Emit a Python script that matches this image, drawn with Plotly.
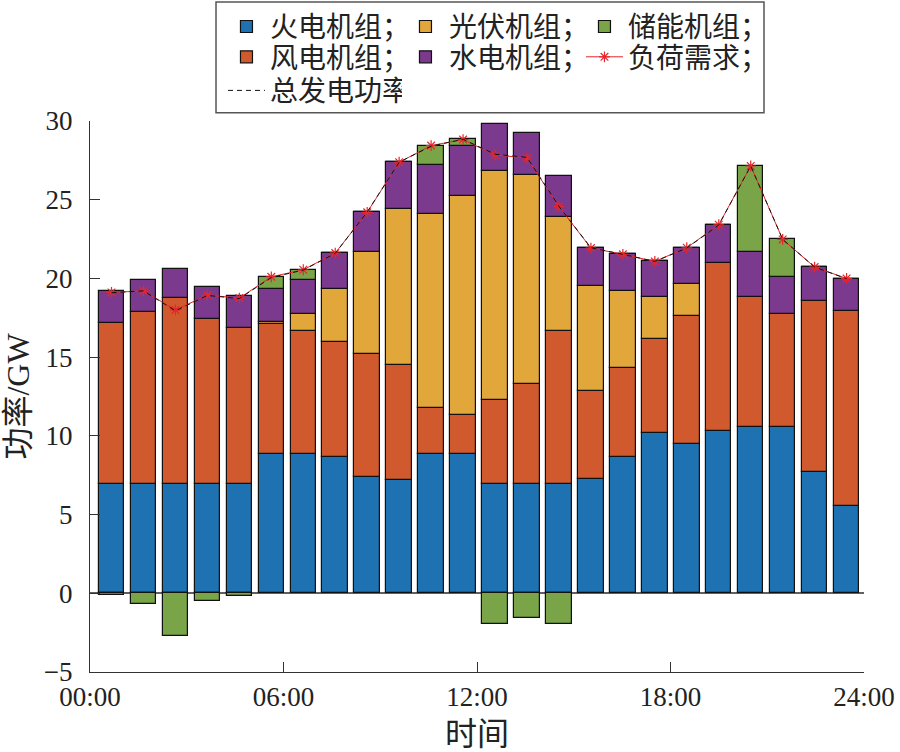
import numpy as np
import plotly.graph_objects as go

# hourly output of each unit type, GW
thermal = [6.93, 6.93, 6.93, 6.93, 6.93, 8.82, 8.82, 8.68, 7.38, 7.17, 8.82, 8.82,
           6.93, 6.93, 6.93, 7.23, 8.68, 10.16, 9.50, 10.29, 10.58, 10.58, 7.70, 5.53]
wind = [10.23, 10.91, 11.80, 10.48, 9.95, 8.27, 7.87, 7.29, 7.80, 7.30, 2.97, 2.48,
        5.35, 6.35, 9.72, 5.62, 5.66, 5.98, 8.10, 10.66, 8.21, 7.15, 10.86, 12.37]
solar = [0, 0, 0, 0, 0, 0.15, 1.08, 3.33, 6.47, 9.96, 12.32, 13.96,
         14.55, 13.29, 7.23, 6.70, 4.85, 2.71, 2.04, 0, 0, 0, 0, 0]
hydro = [2.03, 2.05, 1.90, 2.02, 2.01, 2.12, 2.12, 2.29, 2.57, 2.95, 3.08, 3.16,
         3.01, 2.69, 2.65, 2.40, 2.34, 2.23, 2.29, 2.44, 2.86, 2.37, 2.16, 2.08]
storage = [-0.10, -0.68, -2.69, -0.51, -0.17, 0.70, 0.64, 0, 0, 0, 1.21, 0.42,
           -1.95, -1.57, -1.95, 0, 0, 0, 0, 0, 5.49, 2.38, 0, 0]
load = [19.11, 19.21, 18.00, 18.94, 18.75, 20.10, 20.55, 21.61, 24.20, 27.38, 28.44, 28.82,
        27.84, 27.65, 24.56, 21.93, 21.53, 21.08, 21.95, 23.41, 27.14, 22.48, 20.72, 20.00]

tick_hours = [0, 6, 12, 18, 24]
tick_labels = ["00:00", "06:00", "12:00", "18:00", "24:00"]

# net total generation (storage counted with its sign)
total = np.array(thermal) + np.array(wind) + np.array(solar) + np.array(hydro) + np.array(storage)

# bar centres on the 0-24 h axis
x = 0.667 + 0.991 * np.arange(24)

font_family = "'Liberation Serif', 'Times New Roman', 'Noto Sans CJK SC', serif"
edge = dict(color="#111111", width=1.2)

fig = go.Figure()

bars = [
    ("火电机组；", thermal, "#1f72b2", "legend"),
    ("风电机组；", wind, "#d05a2d", "legend2"),
    ("光伏机组；", solar, "#e2a73b", "legend"),
    ("水电机组；", hydro, "#7b3a8d", "legend2"),
    ("储能机组；", storage, "#79a447", "legend"),
]
for name, vals, color, lg in bars:
    fig.add_trace(go.Bar(x=x, y=vals, name=name, width=0.79,
                         marker=dict(color=color, line=edge), legend=lg))

fig.add_trace(go.Scatter(x=x, y=load, name="负荷需求；", mode="lines+markers",
                         line=dict(color="#e8262b", width=1),
                         marker=dict(symbol="asterisk-open", size=9,
                                     line=dict(color="#e8262b", width=1.2)),
                         legend="legend2"))
fig.add_trace(go.Scatter(x=x, y=total, name="总发电功率", mode="lines",
                         line=dict(color="#111111", width=1, dash="5px,4px"),
                         legend="legend3"))

# one horizontal legend per row so the entries line up in three columns
leg = dict(orientation="h", x=0.1718, xanchor="left", yanchor="middle",
           bgcolor="rgba(0,0,0,0)", borderwidth=0, traceorder="normal",
           font=dict(family=font_family, size=28, color="#222222"),
           itemwidth=37, entrywidth=127, entrywidthmode="pixels")

fig.update_layout(
    width=900, height=752,
    margin=dict(l=90, r=36, t=121, b=80, autoexpand=False),
    paper_bgcolor="white", plot_bgcolor="white",
    barmode="relative", bargap=0,
    font=dict(family=font_family, size=27, color="#222222"),
    legend=dict(leg, y=1.171),
    legend2=dict(leg, y=1.116),
    legend3=dict(leg, y=1.055),
    shapes=[dict(type="rect", xref="paper", yref="paper",
                 x0=0.1628, x1=0.8708, y0=1.0149, y1=1.2161,
                 line=dict(color="#555555", width=1.5))],
)

fig.update_xaxes(range=[0, 24], tickvals=tick_hours, ticktext=tick_labels,
                 ticks="inside", ticklen=10, tickwidth=1.3, tickcolor="#333333",
                 showline=True, linecolor="#333333", linewidth=1.3,
                 showgrid=False, zeroline=False,
                 title=dict(text="时间", standoff=14))
fig.update_yaxes(range=[-5, 30], dtick=5,
                 ticks="inside", ticklen=10, tickwidth=1.3, tickcolor="#333333",
                 showline=True, linecolor="#333333", linewidth=1.3,
                 showgrid=False, zeroline=True, zerolinecolor="#606060", zerolinewidth=1.5,
                 ticklabelstandoff=11,
                 title=dict(text="功率/GW", standoff=8))

# drop the browser's default body margin so the figure fills the window exactly
fig.write_html("out.html", config={"displayModeBar": False},
               post_script="document.body.style.margin = '0';")
